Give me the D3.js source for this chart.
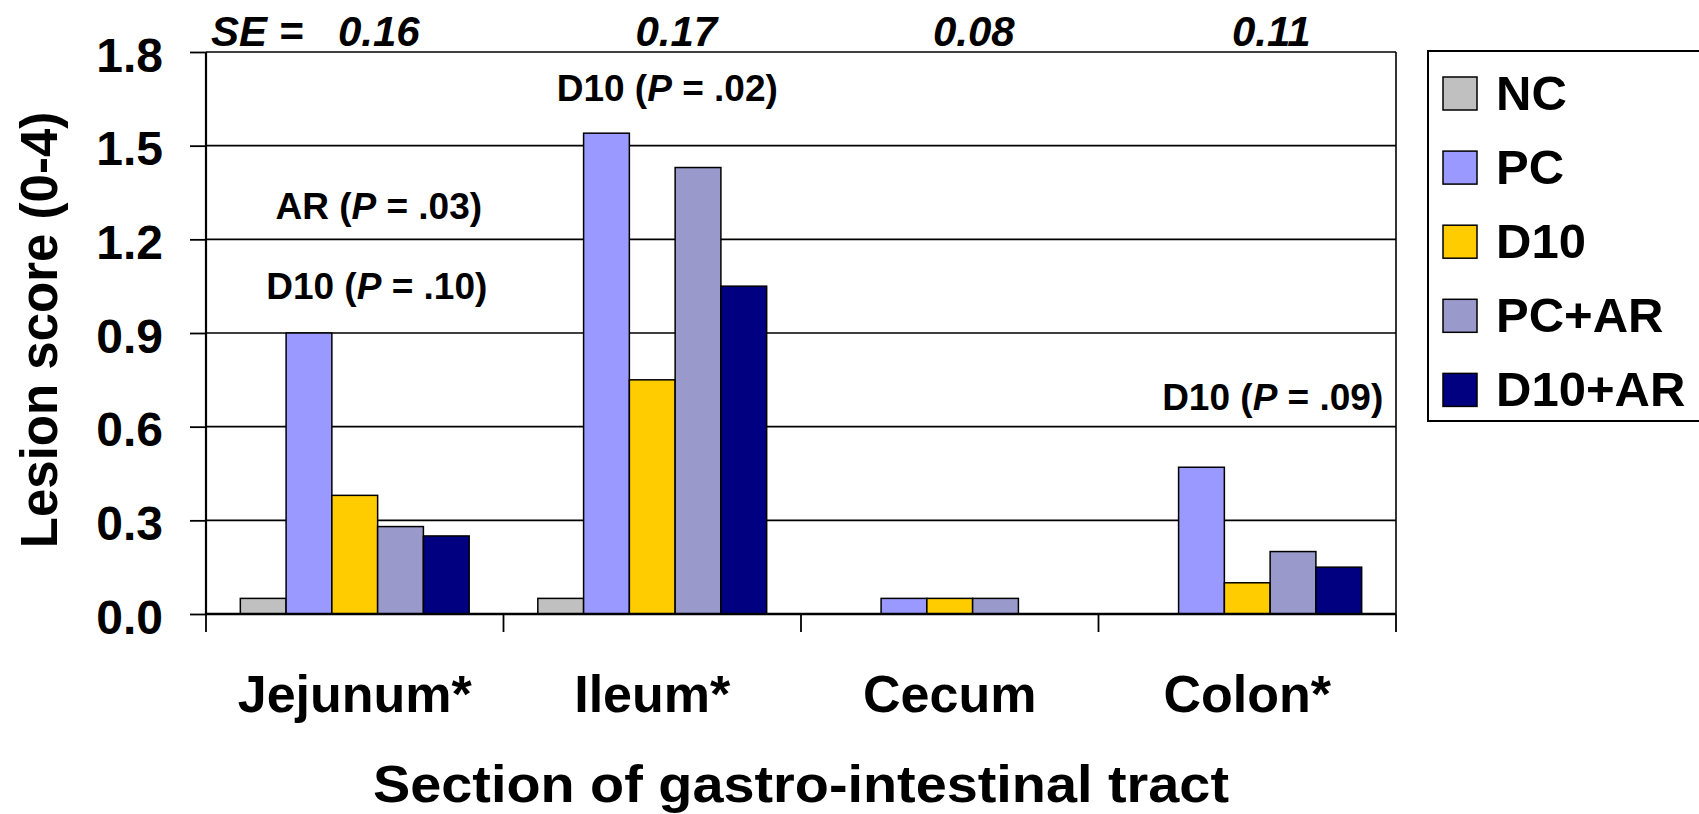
<!DOCTYPE html>
<html>
<head>
<meta charset="utf-8">
<script src="https://cdn.jsdelivr.net/npm/d3@7"></script>
<style>
  html, body { margin: 0; padding: 0; background: #fff; }
  svg { display: block; font-family: "Liberation Sans", Arial, sans-serif; font-weight: bold; }
</style>
</head>
<body>
<svg id="chart" width="1699" height="814"></svg>
<script>
// ---- data ----
const categories = ["Jejunum*", "Ileum*", "Cecum", "Colon*"];
const seriesNames = ["NC", "PC", "D10", "PC+AR", "D10+AR"];
const seriesColors = ["#C0C0C0", "#9999FF", "#FFCC00", "#9999CC", "#000080"];
const valuesNC    = [0.05, 0.05, 0.00, 0.00];
const valuesPC    = [0.90, 1.54, 0.05, 0.47];
const valuesD10   = [0.38, 0.75, 0.05, 0.10];
const valuesPCAR  = [0.28, 1.43, 0.05, 0.20];
const valuesD10AR = [0.25, 1.05, 0.00, 0.15];
const seValues = ["0.16", "0.17", "0.08", "0.11"];
const yTicks = [0.0, 0.3, 0.6, 0.9, 1.2, 1.5, 1.8];
const annotCategory = ["Jejunum*", "Jejunum*", "Ileum*", "Colon*"];
const annotGroup = ["AR", "D10", "D10", "D10"];
const annotP = [".03", ".10", ".02", ".09"];

const seriesValues = [valuesNC, valuesPC, valuesD10, valuesPCAR, valuesD10AR];

// ---- layout ----
const pLeft = 206, pRight = 1396, pTop = 52, pBottom = 614;
const svg = d3.select("#chart");

const x0 = d3.scaleBand().domain(categories).range([pLeft, pRight]).padding(0);
const x1 = d3.scaleBand().domain(seriesNames).range([0, x0.bandwidth()])
  .paddingInner(0).paddingOuter(0.75);
const y = d3.scaleLinear().domain([0, 1.8]).range([pBottom, pTop]);

// gridlines (including top border at 1.8)
svg.append("g")
  .selectAll("line")
  .data(yTicks.filter(d => d > 0))
  .join("line")
  .attr("x1", pLeft).attr("x2", pRight)
  .attr("y1", d => y(d)).attr("y2", d => y(d))
  .attr("stroke", "#000").attr("stroke-width", 1.6);

// right border of plot area
svg.append("line")
  .attr("x1", pRight).attr("x2", pRight).attr("y1", pTop).attr("y2", pBottom)
  .attr("stroke", "#000").attr("stroke-width", 1.6);

// bars
const barData = [];
categories.forEach((c, ci) => {
  seriesNames.forEach((s, si) => {
    barData.push({ cat: c, series: s, value: seriesValues[si][ci], color: seriesColors[si] });
  });
});
svg.append("g")
  .selectAll("rect")
  .data(barData.filter(d => d.value > 0))
  .join("rect")
  .attr("x", d => x0(d.cat) + x1(d.series))
  .attr("width", x1.bandwidth())
  .attr("y", d => y(d.value))
  .attr("height", d => y(0) - y(d.value))
  .attr("fill", d => d.color)
  .attr("stroke", "#000").attr("stroke-width", 1.5);

// y axis
const yAxis = d3.axisLeft(y).tickValues(yTicks).tickFormat(d3.format(".1f"))
  .tickSize(16).tickPadding(27);
const gy = svg.append("g").attr("transform", `translate(${pLeft},0)`).call(yAxis);
gy.select(".domain").attr("stroke", "#000").attr("stroke-width", 2.2)
  .attr("d", `M0,${pTop}V${pBottom}`);
gy.selectAll(".tick line").attr("stroke", "#000").attr("stroke-width", 1.8);
gy.selectAll(".tick text")
  .attr("fill", "#000")
  .style("font-size", "48px").style("font-weight", "bold")
  .style("font-family", '"Liberation Sans", Arial, sans-serif')
  .attr("dy", "0.40em");

// x axis: ticks at band boundaries
const boundaries = categories.map(c => x0(c)).concat([pRight]);
svg.append("line")
  .attr("x1", pLeft).attr("x2", pRight).attr("y1", pBottom).attr("y2", pBottom)
  .attr("stroke", "#000").attr("stroke-width", 2.4);
svg.append("g").selectAll("line")
  .data(boundaries).join("line")
  .attr("x1", d => d).attr("x2", d => d)
  .attr("y1", pBottom).attr("y2", pBottom + 18)
  .attr("stroke", "#000").attr("stroke-width", 1.8);

// category labels
svg.append("g").selectAll("text")
  .data(categories).join("text")
  .attr("x", d => x0(d) + x0.bandwidth() / 2)
  .attr("y", 712)
  .attr("text-anchor", "middle")
  .style("font-size", "52px")
  .text(d => d);

// axis titles
svg.append("text")
  .attr("x", (pLeft + pRight) / 2).attr("y", 802)
  .attr("text-anchor", "middle")
  .attr("textLength", 856)
  .attr("lengthAdjust", "spacingAndGlyphs")
  .style("font-size", "52px")
  .text("Section of gastro-intestinal tract");

svg.append("text")
  .attr("transform", "translate(57,330) rotate(-90)")
  .attr("text-anchor", "middle")
  .style("font-size", "51px")
  .text("Lesion score (0-4)");

// SE row
svg.append("text")
  .attr("x", 211).attr("y", 46)
  .style("font-size", "42px").style("font-style", "italic")
  .text("SE =");
svg.append("g").selectAll("text")
  .data(categories).join("text")
  .attr("x", d => x0(d) + x0.bandwidth() / 2 + 24)
  .attr("y", 46)
  .attr("text-anchor", "middle")
  .style("font-size", "42px").style("font-style", "italic")
  .text((d, i) => seValues[i]);

// significance annotations
const annotLayout = [
  { dx: 24, by: 219, anchor: "middle" },
  { dx: 22, by: 299, anchor: "middle" },
  { dx: 15, by: 101, anchor: "middle" },
  { dx: 136, by: 410, anchor: "end" }
];
annotCategory.forEach((c, i) => {
  const L = annotLayout[i];
  const t = svg.append("text")
    .attr("x", x0(c) + x0.bandwidth() / 2 + L.dx)
    .attr("y", L.by)
    .attr("text-anchor", L.anchor)
    .style("font-size", "37px");
  t.append("tspan").text(annotGroup[i] + " (");
  t.append("tspan").style("font-style", "italic").text("P");
  t.append("tspan").text(" = " + annotP[i] + ")");
});

// legend
const legend = svg.append("g");
legend.append("rect")
  .attr("x", 1428).attr("y", 51).attr("width", 290).attr("height", 370)
  .attr("fill", "#fff").attr("stroke", "#000").attr("stroke-width", 2);
const legStep = 74.1;
const items = legend.selectAll("g.item")
  .data(seriesNames).join("g")
  .attr("class", "item")
  .attr("transform", (d, i) => `translate(1443,${93.5 + i * legStep})`);
items.append("rect")
  .attr("x", 0).attr("y", -16.5).attr("width", 34).attr("height", 33)
  .attr("fill", (d, i) => seriesColors[i])
  .attr("stroke", "#000").attr("stroke-width", 1.5);
items.append("text")
  .attr("x", 53).attr("y", 16.5)
  .style("font-size", "49px")
  .text(d => d);
</script>
</body>
</html>
